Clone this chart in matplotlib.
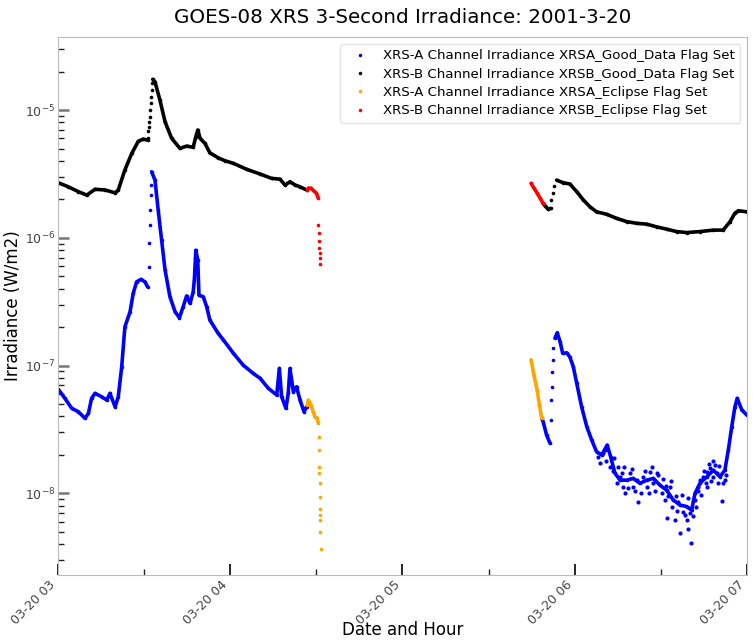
import numpy as np
import pandas as pd
import matplotlib
matplotlib.use("Agg")
from matplotlib import pyplot as plt
import matplotlib.dates as mdates

base = pd.Timestamp("2001-03-20 03:00:00")

# times are minutes after 03:00, values in W/m2

# XRS-B good data, before eclipse
xrsb_good_1_t = [0.1, 3.6, 7.1, 10.0, 12.9, 16.4, 19.9, 21.0, 23.3, 25.7, 28.0, 29.7, 31.2]
xrsb_good_1_v = [2.70e-6, 2.51e-6, 2.30e-6, 2.16e-6, 2.40e-6, 2.37e-6, 2.25e-6, 2.37e-6,
                 3.40e-6, 4.58e-6, 5.71e-6, 5.93e-6, 5.82e-6]
xrsb_jump_1_t = [31.3, 31.5, 31.7, 31.8, 32.0, 32.1, 32.3, 32.5, 32.6, 32.8]
xrsb_jump_1_v = [6.0e-6, 6.8e-6, 7.4e-6, 8.1e-6, 8.9e-6, 1.0e-5, 1.13e-5, 1.27e-5, 1.43e-5, 1.62e-5]
xrsb_good_2_t = [33.0, 33.8, 35.5, 37.3, 39.6, 42.5, 44.8, 47.1, 48.0, 48.7, 49.5, 51.2, 52.9,
                 55.8, 58.2, 61.1, 65.7, 70.4, 74.4, 77.3, 79.1, 80.8, 82.6, 84.3, 86.6]
xrsb_good_2_v = [1.74e-5, 1.66e-5, 1.20e-5, 8.09e-6, 6.01e-6, 5.01e-6, 5.23e-6, 5.11e-6, 6.18e-6,
                 6.98e-6, 6.01e-6, 5.48e-6, 4.63e-6, 4.23e-6, 4.01e-6, 3.83e-6, 3.44e-6, 3.16e-6,
                 2.92e-6, 2.88e-6, 2.59e-6, 2.75e-6, 2.59e-6, 2.51e-6, 2.37e-6]

# XRS-B eclipse flag
xrsb_ecl_1_t = [86.9, 87.2, 88.1, 89.2, 90.0, 90.7]
xrsb_ecl_1_v = [2.37e-6, 2.45e-6, 2.45e-6, 2.32e-6, 2.24e-6, 2.04e-6]
xrsb_ecl_drop_t = [90.7, 90.8, 90.9, 91.0, 91.1, 91.2, 91.4]
xrsb_ecl_drop_v = [1.26e-6, 1.10e-6, 9.5e-7, 8.3e-7, 7.6e-7, 6.95e-7, 6.3e-7]
xrsb_ecl_2_t = [164.8, 165.8, 166.9, 167.9, 169.0]
xrsb_ecl_2_v = [2.67e-6, 2.45e-6, 2.24e-6, 2.05e-6, 1.86e-6]

# XRS-B good data, after eclipse
xrsb_good_3_t = [169.0, 169.8, 170.8, 171.6]
xrsb_good_3_v = [1.86e-6, 1.77e-6, 1.67e-6, 1.70e-6]
xrsb_jump_2_t = [171.9, 172.3, 172.8]
xrsb_jump_2_v = [1.98e-6, 2.23e-6, 2.54e-6]
xrsb_good_4_t = [173.7, 176.0, 178.3, 180.7, 183.0, 185.3, 187.6, 191.1, 194.6, 198.1, 201.6,
                 205.1, 208.5, 212.0, 215.5, 219.0, 223.6, 228.3, 231.7, 234.1, 235.8, 237.0, 239.9]
xrsb_good_4_v = [2.83e-6, 2.70e-6, 2.64e-6, 2.30e-6, 1.98e-6, 1.75e-6, 1.60e-6, 1.53e-6, 1.42e-6,
                 1.34e-6, 1.30e-6, 1.28e-6, 1.22e-6, 1.17e-6, 1.12e-6, 1.10e-6, 1.12e-6, 1.15e-6,
                 1.15e-6, 1.34e-6, 1.56e-6, 1.63e-6, 1.60e-6]

# XRS-A good data, before eclipse
xrsa_good_1_t = [0.1, 2.4, 4.8, 7.1, 9.4, 10.6, 11.7, 12.9, 15.2, 17.0, 18.1, 19.9, 21.0, 22.2,
                 23.3, 25.1, 26.2, 27.4, 28.9, 30.3, 31.2]
xrsa_good_1_v = [6.53e-8, 5.55e-8, 4.63e-8, 4.36e-8, 3.87e-8, 4.23e-8, 5.55e-8, 6.07e-8, 5.71e-8,
                 5.38e-8, 6.07e-8, 4.76e-8, 5.71e-8, 9.8e-8, 2.01e-7, 2.64e-7, 3.68e-7, 4.53e-7,
                 4.73e-7, 4.53e-7, 4.14e-7]
xrsa_jump_1_t = [31.6, 31.8, 31.9, 32.2, 32.3, 32.5]
xrsa_jump_1_v = [5.94e-7, 9.05e-7, 1.26e-6, 1.65e-6, 2.16e-6, 2.59e-6]
xrsa_good_2_t = [32.6, 33.8, 34.9, 36.1, 37.3, 39.0, 40.8, 42.3, 43.6, 44.8, 46.0, 47.1, 47.5,
                 47.7, 47.9, 48.0, 48.7, 49.1, 50.6, 51.8, 52.9, 55.8, 57.6, 61.1, 64.5, 68.0,
                 70.4, 73.3, 76.2, 77.1, 77.9, 79.4, 80.2, 80.8, 82.0, 83.1, 84.3, 85.7, 86.6]
xrsa_good_2_v = [3.29e-6, 2.83e-6, 1.65e-6, 9.6e-7, 5.6e-7, 3.46e-7, 2.64e-7, 2.37e-7, 2.89e-7,
                 3.51e-7, 3.07e-7, 3.78e-7, 4.68e-7, 5.8e-7, 6.95e-7, 8.0e-7, 6.7e-7, 3.56e-7,
                 3.46e-7, 2.89e-7, 2.27e-7, 1.79e-7, 1.59e-7, 1.25e-7, 1.01e-7, 8.7e-8, 7.96e-8,
                 6.64e-8, 5.89e-8, 9.5e-8, 5.71e-8, 4.63e-8, 6.07e-8, 9.5e-8, 6.25e-8, 6.84e-8,
                 5.38e-8, 4.36e-8, 4.76e-8]

# XRS-A eclipse flag
xrsa_ecl_1_t = [86.9, 87.2, 88.1, 88.9, 89.5, 90.2, 90.7]
xrsa_ecl_1_v = [4.9e-8, 5.38e-8, 4.92e-8, 4.36e-8, 3.98e-8, 3.89e-8, 3.54e-8]
xrsa_ecl_drop_t = [90.8, 90.9, 91.0, 91.05, 91.1, 91.2, 91.25, 91.3, 91.35, 91.4, 91.5]
xrsa_ecl_drop_v = [2.78e-8, 2.19e-8, 1.62e-8, 1.45e-8, 1.20e-8, 9.3e-9, 7.6e-9, 6.8e-9, 6.2e-9,
                   5.0e-9, 3.7e-9]
xrsa_ecl_2_t = [164.8, 165.8, 166.9, 167.7, 168.5]
xrsa_ecl_2_v = [1.11e-7, 8.4e-8, 6.44e-8, 4.92e-8, 3.87e-8]

# XRS-A good data, after eclipse
xrsa_good_3_t = [168.5, 169.0, 170.2, 171.4]
xrsa_good_3_v = [3.87e-8, 3.64e-8, 2.86e-8, 2.47e-8]
xrsa_jump_2_t = [171.6, 171.8, 172.0, 172.1, 172.3, 172.6]
xrsa_jump_2_v = [3.75e-8, 5.38e-8, 6.84e-8, 8.9e-8, 1.11e-7, 1.37e-7]
xrsa_good_4_t = [173.1, 173.9, 174.9, 175.8, 177.2, 178.3, 179.5, 180.7, 182.4, 184.2, 185.9,
                 187.6, 189.4, 191.3, 192.5, 194.0, 195.8, 198.1, 200.4, 202.7, 205.1, 207.4,
                 209.7, 212.0, 214.3, 216.7, 219.0, 220.7, 221.9, 223.6, 226.0, 228.3, 230.6,
                 232.3, 233.5, 234.7, 235.8, 236.6, 238.2, 240.0]
xrsa_good_4_v = [1.64e-7, 1.81e-7, 1.54e-7, 1.25e-7, 1.26e-7, 1.17e-7, 9.8e-8, 7.27e-8, 4.76e-8,
                 3.33e-8, 2.62e-8, 2.12e-8, 2.0e-8, 2.39e-8, 1.94e-8, 1.44e-8, 1.27e-8, 1.27e-8,
                 1.31e-8, 1.20e-8, 1.27e-8, 1.31e-8, 1.16e-8, 1.06e-8, 8.9e-9, 8.1e-9, 7.9e-9,
                 7.4e-9, 1.0e-8, 1.20e-8, 1.35e-8, 1.52e-8, 1.35e-8, 1.52e-8, 2.19e-8, 3.33e-8,
                 4.76e-8, 5.55e-8, 4.5e-8, 4.1e-8]
# scattered XRS-A points in the noisy stretch
xrsa_scatter_t = [188.8, 189.9, 188.2, 192.3, 194.6, 195.8, 196.9, 197.5, 199.2, 200.4, 202.1,
                  201.6, 203.9, 205.1, 206.2, 207.4, 209.1, 210.3, 211.4, 212.0, 213.2, 213.8,
                  214.9, 216.1, 216.7, 217.8, 219.0, 219.6, 220.4, 221.1, 221.9, 223.0, 224.8,
                  226.0, 227.1, 228.8, 230.0, 231.2, 232.3, 226.0, 228.3, 223.6,
                  190.5, 191.0, 193.2, 193.8, 195.0, 196.3, 197.0, 198.6, 199.8, 201.0, 203.2,
                  204.5, 205.8, 206.8, 208.0, 208.6, 210.8, 211.8, 212.6, 213.5, 215.2, 215.6,
                  217.2, 218.3, 219.4, 220.0, 222.4, 222.8, 224.0, 225.2, 225.6, 226.6, 227.6,
                  228.0, 229.4, 230.4, 231.6, 232.8]
xrsa_scatter_v = [1.72e-8, 2.06e-8, 1.94e-8, 1.62e-8, 1.20e-8, 1.35e-8, 1.13e-8, 1.00e-8, 1.44e-8,
                  1.13e-8, 8.6e-9, 1.27e-8, 1.35e-8, 1.13e-8, 1.48e-8, 1.20e-8, 1.39e-8, 1.00e-8,
                  8.9e-9, 6.4e-9, 1.13e-8, 7.9e-9, 6.2e-9, 8.6e-9, 4.9e-9, 7.2e-9, 6.2e-9, 5.3e-9,
                  4.1e-9, 6.6e-9, 8.9e-9, 1.13e-8, 1.35e-8, 1.13e-8, 1.57e-8, 1.67e-8, 1.20e-8,
                  8.7e-9, 1.27e-8, 1.48e-8, 1.35e-8, 1.27e-8,
                  2.2e-8, 1.8e-8, 1.5e-8, 1.9e-8, 1.6e-8, 1.45e-8, 1.6e-8, 1.1e-8, 1.55e-8,
                  1.05e-8, 1.0e-8, 1.5e-8, 1.0e-8, 1.6e-8, 1.05e-8, 1.45e-8, 1.3e-8, 1.15e-8,
                  9.5e-9, 1.25e-8, 9.5e-9, 7.3e-9, 9.8e-9, 6.8e-9, 9.2e-9, 7.0e-9, 7.8e-9,
                  1.05e-8, 9.8e-9, 1.5e-8, 1.2e-8, 1.7e-8, 1.25e-8, 1.8e-8, 1.45e-8, 1.65e-8,
                  1.2e-8, 1.4e-8]


def to_time(minutes):
    return base + pd.to_timedelta(np.array(minutes), unit="m")


fig = plt.figure(figsize=(7.53, 6.41), dpi=100)
ax = fig.add_axes([0.077, 0.103, 0.915, 0.839])

lw = 2.6
ms = 2.6


def curve(t, v, color):
    ax.plot(to_time(t), v, color=color, lw=lw, solid_capstyle="round", zorder=2)
    ax.plot(to_time(t), v, "o", color=color, ms=ms, mew=0, zorder=2)


def dots(t, v, color, size=ms):
    ax.plot(to_time(t), v, "o", color=color, ms=size, mew=0, ls="none", zorder=2)


for t, v in [(xrsa_good_1_t, xrsa_good_1_v), (xrsa_good_2_t, xrsa_good_2_v),
             (xrsa_good_3_t, xrsa_good_3_v), (xrsa_good_4_t, xrsa_good_4_v)]:
    curve(t, v, "blue")
dots(xrsa_jump_1_t, xrsa_jump_1_v, "blue")
dots(xrsa_jump_2_t, xrsa_jump_2_v, "blue")
dots(xrsa_scatter_t, xrsa_scatter_v, "blue", 3.0)

for t, v in [(xrsb_good_1_t, xrsb_good_1_v), (xrsb_good_2_t, xrsb_good_2_v),
             (xrsb_good_3_t, xrsb_good_3_v), (xrsb_good_4_t, xrsb_good_4_v)]:
    curve(t, v, "black")
dots(xrsb_jump_1_t, xrsb_jump_1_v, "black")
dots(xrsb_jump_2_t, xrsb_jump_2_v, "black")

curve(xrsa_ecl_1_t, xrsa_ecl_1_v, "orange")
curve(xrsa_ecl_2_t, xrsa_ecl_2_v, "orange")
dots(xrsa_ecl_drop_t, xrsa_ecl_drop_v, "orange")

curve(xrsb_ecl_1_t, xrsb_ecl_1_v, "red")
curve(xrsb_ecl_2_t, xrsb_ecl_2_v, "red")
dots(xrsb_ecl_drop_t, xrsb_ecl_drop_v, "red")

# legend handles
ax.plot([], [], ".", color="blue", ms=3, label="XRS-A Channel Irradiance XRSA_Good_Data Flag Set")
ax.plot([], [], ".", color="black", ms=3, label="XRS-B Channel Irradiance XRSB_Good_Data Flag Set")
ax.plot([], [], ".", color="orange", ms=3, label="XRS-A Channel Irradiance XRSA_Eclipse Flag Set")
ax.plot([], [], ".", color="red", ms=3, label="XRS-B Channel Irradiance XRSB_Eclipse Flag Set")

ax.set_yscale("log")
ax.set_ylim(2.3e-9, 3.72e-5)
ax.set_xlim(base, base + pd.Timedelta(hours=4))

ax.xaxis.set_major_locator(mdates.HourLocator())
ax.xaxis.set_minor_locator(mdates.MinuteLocator(byminute=[30]))
ax.xaxis.set_major_formatter(mdates.DateFormatter("%m-%d %H"))

ax.tick_params(axis="both", which="both", direction="in", top=False, right=False,
               labelcolor="#444444")
ax.tick_params(axis="both", which="major", length=8, width=1.2, labelsize=9, pad=2)
ax.tick_params(axis="y", which="major", color="#777777", width=1.8)
ax.tick_params(axis="both", which="minor", length=4, width=1, color="#222222")
for lab in ax.get_xticklabels():
    lab.set_rotation(45)
    lab.set_ha("right")

for s in ax.spines.values():
    s.set_color("#bbbbbb")

ax.set_title("GOES-08 XRS 3-Second Irradiance: 2001-3-20", fontsize=14.3, pad=10)
ax.set_xlabel("Date and Hour", fontsize=12)
ax.set_ylabel("Irradiance (W/m2)", fontsize=12)
ax.xaxis.set_label_coords(0.5, -0.085)
ax.yaxis.set_label_coords(-0.052, 0.5)

leg = ax.legend(loc="upper right", fontsize=9.6, borderaxespad=0.5, labelspacing=0.4,
                handlelength=2.2, handletextpad=0.6, frameon=True)
leg.get_frame().set_edgecolor("#dddddd")

fig.savefig("out.png", dpi=100)
